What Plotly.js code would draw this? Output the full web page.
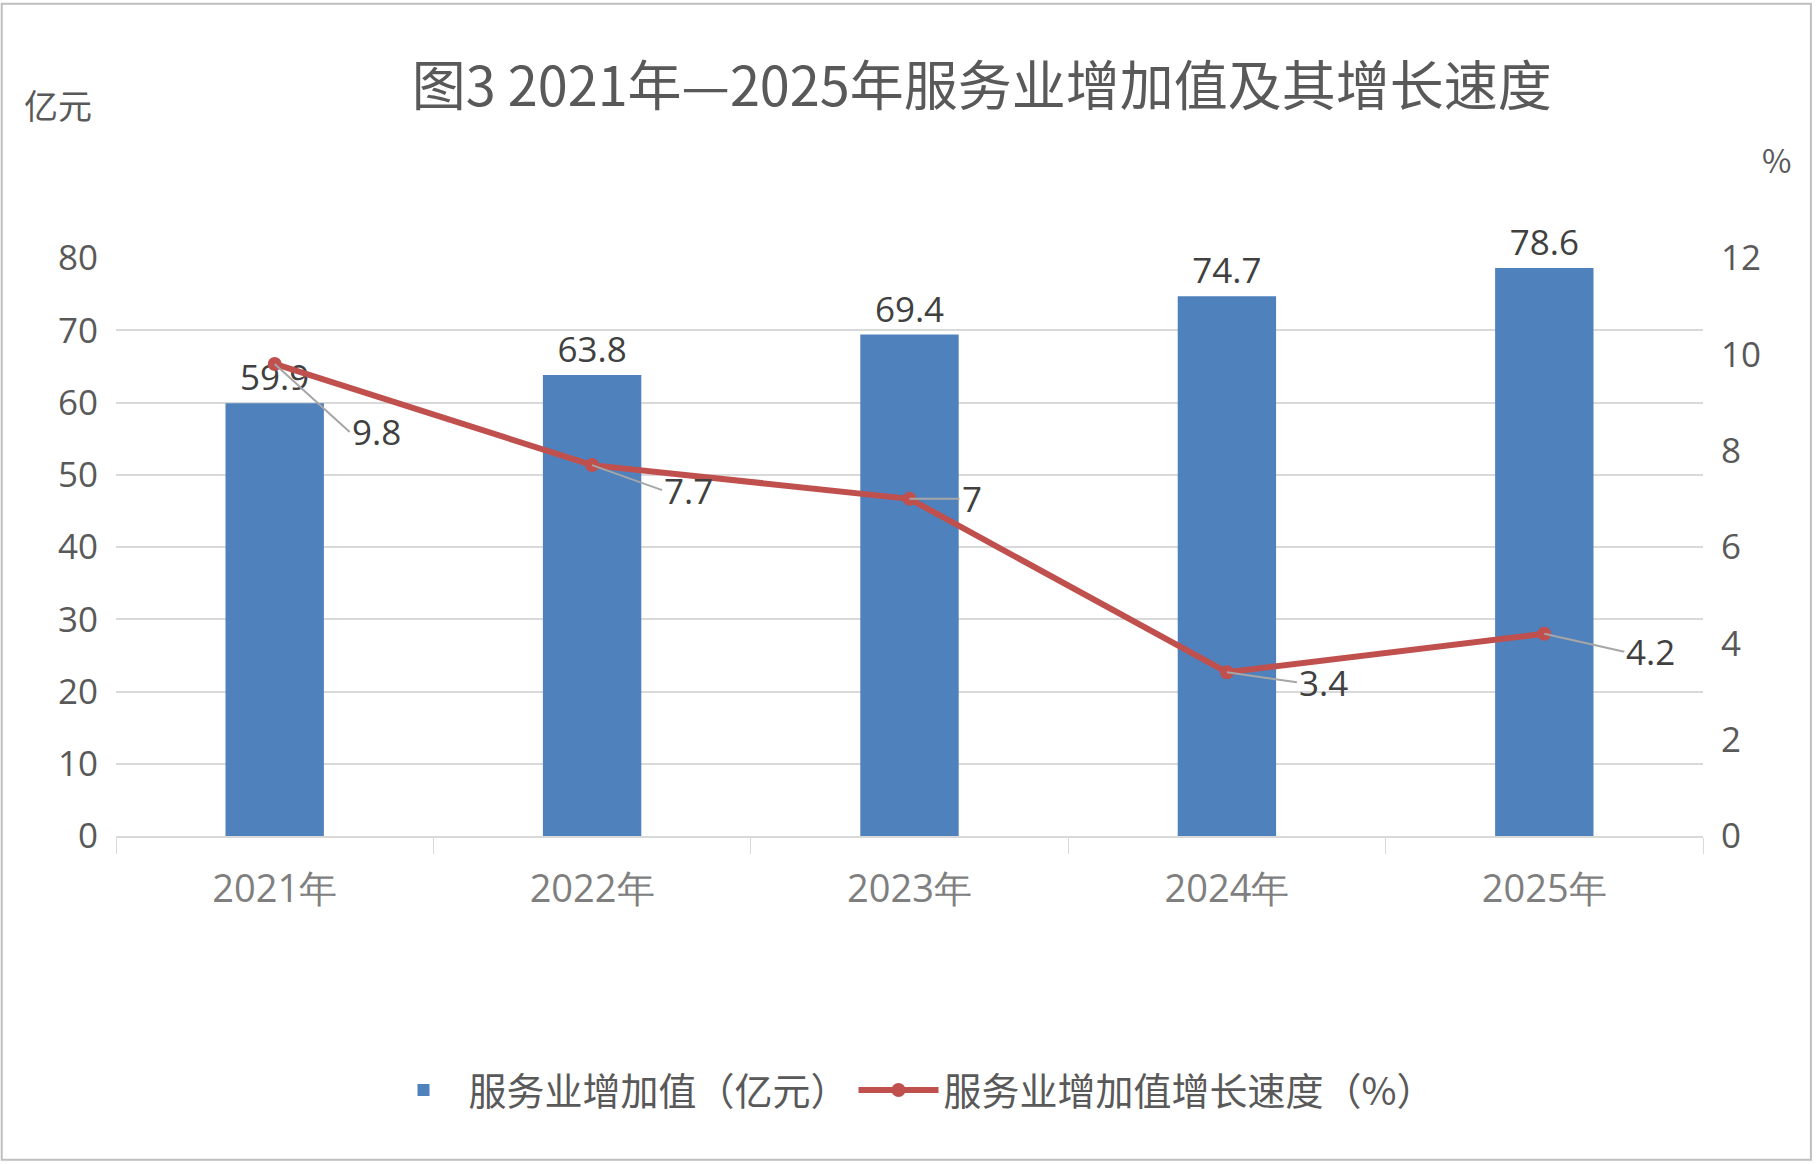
<!DOCTYPE html>
<html><head><meta charset="utf-8">
<script src="https://cdn.plot.ly/plotly-3.0.1.min.js"></script>
<style>body{margin:0;background:#fff}#c{width:1818px;height:1164px}</style>
</head><body><div id="c"></div>
<script>
// 数据
const years = ['2021年', '2022年', '2023年', '2024年', '2025年'];
const valueAdded = [59.9, 63.8, 69.4, 74.7, 78.6];
const growthRate = [9.8, 7.7, 7, 3.4, 4.2];
const growthLabelOffsets = [[75, 68], [70, 25], [50, 0], [70, 10], [80, 18]];

const cjk = '"Noto Sans CJK SC", "Noto Sans", sans-serif';
const num = '"Open Sans", "Noto Sans", sans-serif';

const traces = [
  {
    type: 'bar', x: years, y: valueAdded, name: '服务业增加值（亿元）',
    marker: { color: '#4f81bd' }, width: 0.31,
    text: valueAdded.map(v => v.toFixed(1)), textposition: 'outside', cliponaxis: false,
    textfont: { family: num, size: 35, color: '#404040' }, hoverinfo: 'none'
  },
  {
    type: 'scatter', mode: 'lines+markers', x: years, y: growthRate, yaxis: 'y2',
    name: '服务业增加值增长速度（%）',
    line: { color: '#c0504d', width: 6 }, marker: { color: '#c0504d', size: 14 }, hoverinfo: 'none'
  }
];

const annotations = growthRate.map((v, i) => ({
  x: years[i], y: v, yref: 'y2', text: String(v),
  showarrow: true, arrowhead: 0, arrowcolor: '#a6a6a6', arrowwidth: 2,
  ax: growthLabelOffsets[i][0], ay: growthLabelOffsets[i][1],
  xanchor: 'left', standoff: 0,
  font: { family: num, size: 35, color: '#404040' }
}));
annotations.push(
  { xref: 'paper', yref: 'paper', x: -0.059, y: 1.266, yanchor: 'middle', text: '亿元', showarrow: false,
    xanchor: 'left', font: { family: cjk, size: 34, color: '#595959' } },
  { xref: 'paper', yref: 'paper', x: 1.036, y: 1.171, yanchor: 'middle', text: '%', showarrow: false,
    xanchor: 'left', font: { family: cjk, size: 32, color: '#595959' } }
);

const layout = {
  width: 1818, height: 1164,
  paper_bgcolor: '#fff', plot_bgcolor: '#fff',
  margin: { l: 116, r: 115, t: 258, b: 328 },
  title: { text: '图3 2021年—2025年服务业增加值及其增长速度', x: 0.54, xanchor: 'center',
    y: 0.925, yanchor: 'middle',
    font: { family: cjk, size: 54, color: '#595959' } },
  bargap: 0.69,
  xaxis: { showgrid: false, showline: true, linecolor: '#d9d9d9', linewidth: 2,
    ticks: 'outside', tickcolor: '#d9d9d9', ticklen: 16, tickson: 'boundaries', ticklabelstandoff: 18,
    tickfont: { family: num, size: 38, color: '#7f7f7f' } },
  yaxis: { range: [0, 80], dtick: 10, gridcolor: '#d9d9d9', gridwidth: 2, zeroline: false,
    tickfont: { family: num, size: 35, color: '#595959' }, ticklen: 10, ticks: 'outside', tickcolor: '#fff' },
  yaxis2: { range: [0, 12], dtick: 2, overlaying: 'y', side: 'right', showgrid: false, zeroline: false,
    tickfont: { family: num, size: 35, color: '#595959' }, ticklen: 10, ticks: 'outside', tickcolor: '#fff' },
  showlegend: true,
  legend: { orientation: 'h', x: 0.5, xanchor: 'center', y: -0.44, yanchor: 'middle',
    font: { family: cjk, size: 38, color: '#595959' }, itemwidth: 80 },
  annotations: annotations,
  shapes: [{ type: 'rect', xref: 'paper', yref: 'paper', x0: -0.072, x1: 1.068, y0: -0.56, y1: 1.44,
    line: { color: '#bfbfbf', width: 2 } }]
};

Plotly.newPlot('c', traces, layout, { displayModeBar: false, staticPlot: true });
</script></body></html>
